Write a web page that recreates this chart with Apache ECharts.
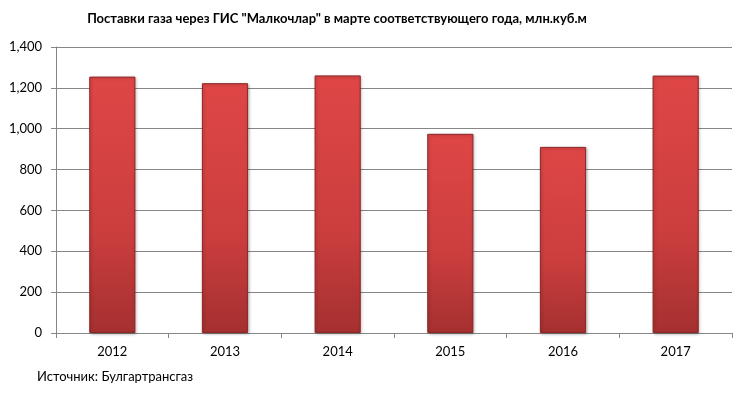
<!DOCTYPE html>
<html><head><meta charset="utf-8">
<script src="https://cdn.jsdelivr.net/npm/echarts@6/dist/echarts.min.js"></script>
<style>html,body{margin:0;padding:0;background:#fff}#c{width:748px;height:399px}</style>
</head><body><div id="c"></div>
<script>
const categories = ['2012','2013','2014','2015','2016','2017'];
const values = [1255, 1223, 1261, 975, 911, 1260];
const titleText = 'Поставки газа через ГИС "Малкочлар" в марте соответствующего года, млн.куб.м';
const sourceText = 'Источник: Булгартрансгаз';

const chart = echarts.init(document.getElementById('c'));
const font = 'Lato, "Open Sans", sans-serif';
chart.setOption({
  animation: false,
  title: [{
    text: titleText, left: 337, top: 12, textAlign: 'center', padding: 0,
    textStyle: {fontFamily: font, fontSize: 13, fontWeight: 'bold', color: '#000'}
  }, {
    text: sourceText, left: 37, top: 370, padding: 0,
    textStyle: {fontFamily: font, fontSize: 13, fontWeight: 'normal', color: '#000'}
  }],
  grid: {left: 56, right: 16, top: 47, bottom: 66, containLabel: false},
  xAxis: {
    type: 'category', data: categories,
    axisLine: {lineStyle: {color: '#868686', width: 1}},
    axisTick: {show: true, alignWithLabel: false, length: 5, lineStyle: {color: '#868686'}},
    axisLabel: {fontFamily: font, fontSize: 13, color: '#000', margin: 12}
  },
  yAxis: {
    type: 'value', min: 0, max: 1400, interval: 200,
    axisLine: {show: true, lineStyle: {color: '#868686'}},
    axisTick: {show: true, length: 5, lineStyle: {color: '#868686'}},
    splitLine: {lineStyle: {color: '#868686', width: 1}},
    axisLabel: {fontFamily: font, fontSize: 13, color: '#000', margin: 14,
      formatter: v => v.toLocaleString('en-US')}
  },
  series: [{
    type: 'bar', data: values, barWidth: '41%',
    itemStyle: {
      color: new echarts.graphic.LinearGradient(0, 0, 0, 1, [
        {offset: 0, color: '#df4646'},
        {offset: 0.6, color: '#cc3e3e'},
        {offset: 1, color: '#a53030'}
      ]),
      borderColor: '#8e2626', borderWidth: 1,
      shadowColor: 'rgba(0,0,0,0.25)', shadowBlur: 3, shadowOffsetX: 1, shadowOffsetY: 1
    }
  }]
});
</script></body></html>
